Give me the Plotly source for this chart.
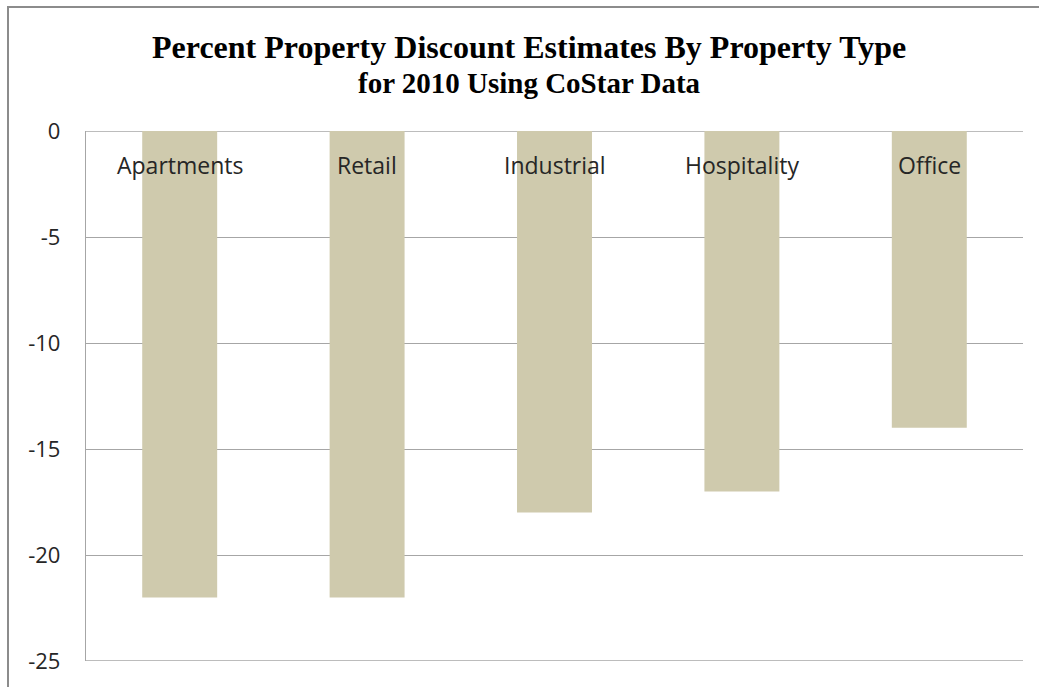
import plotly.graph_objects as go

categories = ["Apartments", "Retail", "Industrial", "Hospitality", "Office"]
discounts = [-22, -22, -18, -17, -14]
y_ticks = [0, -5, -10, -15, -20, -25]
title_line1 = "Percent Property Discount Estimates By Property Type"
title_line2 = "for 2010 Using CoStar Data"

W, H = 1039, 687
L, R, T, B = 86, 16, 131, 26
pw, ph = W - L - R, H - T - B

def px_x(x):
    return (x - L) / pw

def px_y(y):
    return (H - B - y) / ph

GRID = "#A6A6A6"

fig = go.Figure()
fig.add_trace(go.Bar(
    x=categories, y=discounts, width=0.4,
    marker=dict(color="#CFCAAD", line=dict(width=0)),
    showlegend=False, hoverinfo="x+y",
))

label_font = dict(family="Open Sans, Lato, sans-serif", size=23, color="#262626")
for c in categories:
    fig.add_annotation(x=c, y=0, xref="x", yref="y", text=c, showarrow=False,
                       yanchor="middle", yshift=-34, font=label_font)

fig.add_annotation(x=px_x(529), y=px_y(47), xref="paper", yref="paper",
                   text="<b>" + title_line1 + "</b>", showarrow=False,
                   xanchor="center", yanchor="middle",
                   font=dict(family="Liberation Serif, Times New Roman, serif", size=32, color="black"))
fig.add_annotation(x=px_x(529), y=px_y(83), xref="paper", yref="paper",
                   text="<b>" + title_line2 + "</b>", showarrow=False,
                   xanchor="center", yanchor="middle",
                   font=dict(family="Liberation Serif, Times New Roman, serif", size=29, color="black"))

# edge gridlines (top and bottom of range)
for v in (max(y_ticks), min(y_ticks)):
    fig.add_shape(type="line", xref="paper", yref="y", x0=0, x1=1, y0=v, y1=v,
                  line=dict(color=GRID, width=1.3), layer="below")

# chart border
fig.add_shape(type="rect", xref="paper", yref="paper",
              x0=px_x(8), x1=px_x(1060), y0=px_y(720), y1=px_y(7),
              line=dict(color="#8C8C8C", width=2), fillcolor="rgba(0,0,0,0)", layer="below")

fig.update_layout(
    width=W, height=H,
    margin=dict(l=L, r=R, t=T, b=B, pad=0),
    paper_bgcolor="white", plot_bgcolor="white",
    bargap=0.6,
    xaxis=dict(showticklabels=False, showgrid=False, zeroline=False, showline=False,
               range=[-0.5, 4.5]),
    yaxis=dict(range=[-25, 0], tickvals=y_ticks, ticktext=[str(v) for v in y_ticks],
               showgrid=True, gridcolor=GRID, gridwidth=1.3,
               zeroline=False, showline=True, linecolor=GRID, linewidth=1.3,
               ticks="", ticklabelstandoff=20,
               tickfont=dict(family="Open Sans, Lato, sans-serif", size=22, color="#262626")),
)

fig.write_html("out.html")
